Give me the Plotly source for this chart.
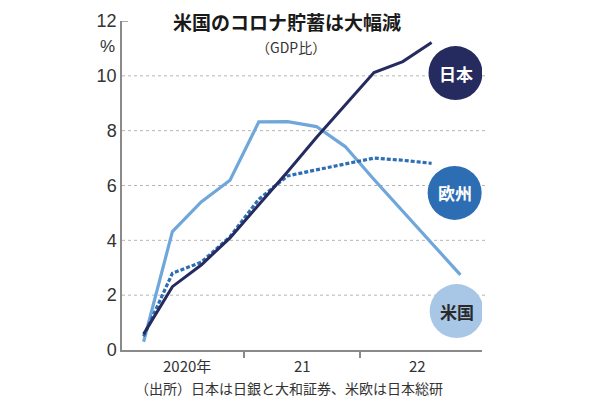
import plotly.graph_objects as go

# Quarterly data, 2020Q1 .. 2022Q4 (index 0..11)
quarters = ["2020Q1", "2020Q2", "2020Q3", "2020Q4",
            "2021Q1", "2021Q2", "2021Q3", "2021Q4",
            "2022Q1", "2022Q2", "2022Q3", "2022Q4"]
japan = [0.58, 2.31, 3.1, 4.09, 5.3, 6.5, 7.75, 8.95, 10.12, 10.52, 11.22]
europe = [0.5, 2.8, 3.2, 4.13, 5.5, 6.35, 6.57, 6.78, 7.0, 6.92, 6.81]
usa = [0.3, 4.32, 5.4, 6.19, 8.32, 8.33, 8.15, 7.42, 6.22, 5.06, 3.9, 2.74]

year_labels = ["2020年", "21", "22"]
year_centers = [1.5, 5.5, 9.5]
year_bounds = [3.5, 7.5]
y_ticks = [0, 2, 4, 6, 8, 10, 12]
y_grid = [2, 4, 6, 8, 10]

C_JP = "#252b5e"
C_EU = "#2d6db3"
C_US = "#6fa7da"
C_US_BADGE = "#a8c6e5"

FONT = "Liberation Sans Narrow, Liberation Sans, sans-serif"
CJK = "Noto Sans CJK JP, sans-serif"

# page offset (default body margin of the html page)
OFF = 8
# plot area in screen pixels
L, R, T, B = 122 - OFF, 482 - OFF, 21 - OFF, 350 - OFF


def px(x):
    return (x - OFF - L) / (R - L)


def py(y):
    return (B - (y - OFF)) / (B - T)


fig = go.Figure()
fig.add_trace(go.Scatter(x=list(range(len(usa))), y=usa, mode="lines",
                         line=dict(color=C_US, width=3.2), name="米国"))
fig.add_trace(go.Scatter(x=list(range(len(europe))), y=europe, mode="lines",
                         line=dict(color=C_EU, width=3.2, dash="4px,2px"), name="欧州"))
fig.add_trace(go.Scatter(x=list(range(len(japan))), y=japan, mode="lines",
                         line=dict(color=C_JP, width=3), name="日本"))

shapes = []
annotations = []

# dashed gridlines
for g in y_grid:
    shapes.append(dict(type="line", xref="paper", yref="y", x0=0, x1=px(486), y0=g, y1=g,
                       line=dict(color="#b5b5b5", width=1, dash="3px,3px"), layer="below"))
shapes.append(dict(type="line", xref="paper", yref="y", x0=0, x1=px(128), y0=12, y1=12,
                   line=dict(color="#8a8a8a", width=1.5)))

# badges
badges = [("日本", 10.83, 10.1, C_JP, "white"),
          ("欧州", 10.8, 5.73, C_EU, "white"),
          ("米国", 10.87, 1.42, C_US_BADGE, "#2a2a2a")]
for name, bx, by, fill, tc in badges:
    shapes.append(dict(type="circle", xref="x", yref="y", xsizemode="pixel", ysizemode="pixel",
                       xanchor=bx, yanchor=by, x0=-27, x1=27, y0=-27, y1=27,
                       fillcolor=fill, line=dict(width=0), layer="above"))
    annotations.append(dict(x=bx, y=by, xref="x", yref="y", text="<b>%s</b>" % name,
                            showarrow=False, font=dict(family=CJK, size=17, color=tc)))

for lab, xc in zip(year_labels, year_centers):
    annotations.append(dict(x=xc, y=py(365), xref="x", yref="paper", text=lab,
                            showarrow=False, xanchor="center", yanchor="middle",
                            font=dict(family=CJK, size=15, color="#333333")))

annotations += [
    dict(x=px(287), y=py(22), xref="paper", yref="paper",
         text="<b>米国のコロナ貯蓄は大幅減</b>", showarrow=False, borderpad=0,
         font=dict(family=CJK, size=19, color="#1a1a1a"), xanchor="center", yanchor="middle"),
    dict(x=px(291), y=py(46.5), xref="paper", yref="paper",
         text="（GDP比）", showarrow=False, borderpad=0,
         font=dict(family=CJK, size=14, color="#333333"), xanchor="center", yanchor="middle"),
    dict(x=px(117), y=py(47), xref="paper", yref="paper",
         text="%", showarrow=False,
         font=dict(family=FONT, size=17, color="#333333"), xanchor="right", yanchor="middle"),
    dict(x=px(289), y=py(388), xref="paper", yref="paper",
         text="（出所）日本は日銀と大和証券、米欧は日本総研", showarrow=False,
         font=dict(family=CJK, size=14, color="#333333"), xanchor="center", yanchor="middle"),
]

fig.update_layout(
    width=600, height=404,
    margin=dict(l=L, r=600 - R, t=T, b=404 - B),
    paper_bgcolor="white", plot_bgcolor="white",
    showlegend=False,
    shapes=shapes, annotations=annotations,
    xaxis=dict(range=[-0.75, 11.75], showgrid=False, zeroline=False, automargin=False,
               showline=True, linecolor="#8a8a8a", linewidth=1.5,
               tickmode="array", tickvals=year_bounds, ticktext=["", ""],
               ticks="outside", ticklen=6, tickcolor="#8a8a8a", tickwidth=1.5),
    yaxis=dict(range=[0, 12], showgrid=False, zeroline=False, automargin=False,
               showline=True, linecolor="#8a8a8a", linewidth=1.5,
               tickmode="array", tickvals=y_ticks, ticks="",
               tickfont=dict(family=FONT, size=18, color="#333333")),
)

fig.write_html("out.html")
